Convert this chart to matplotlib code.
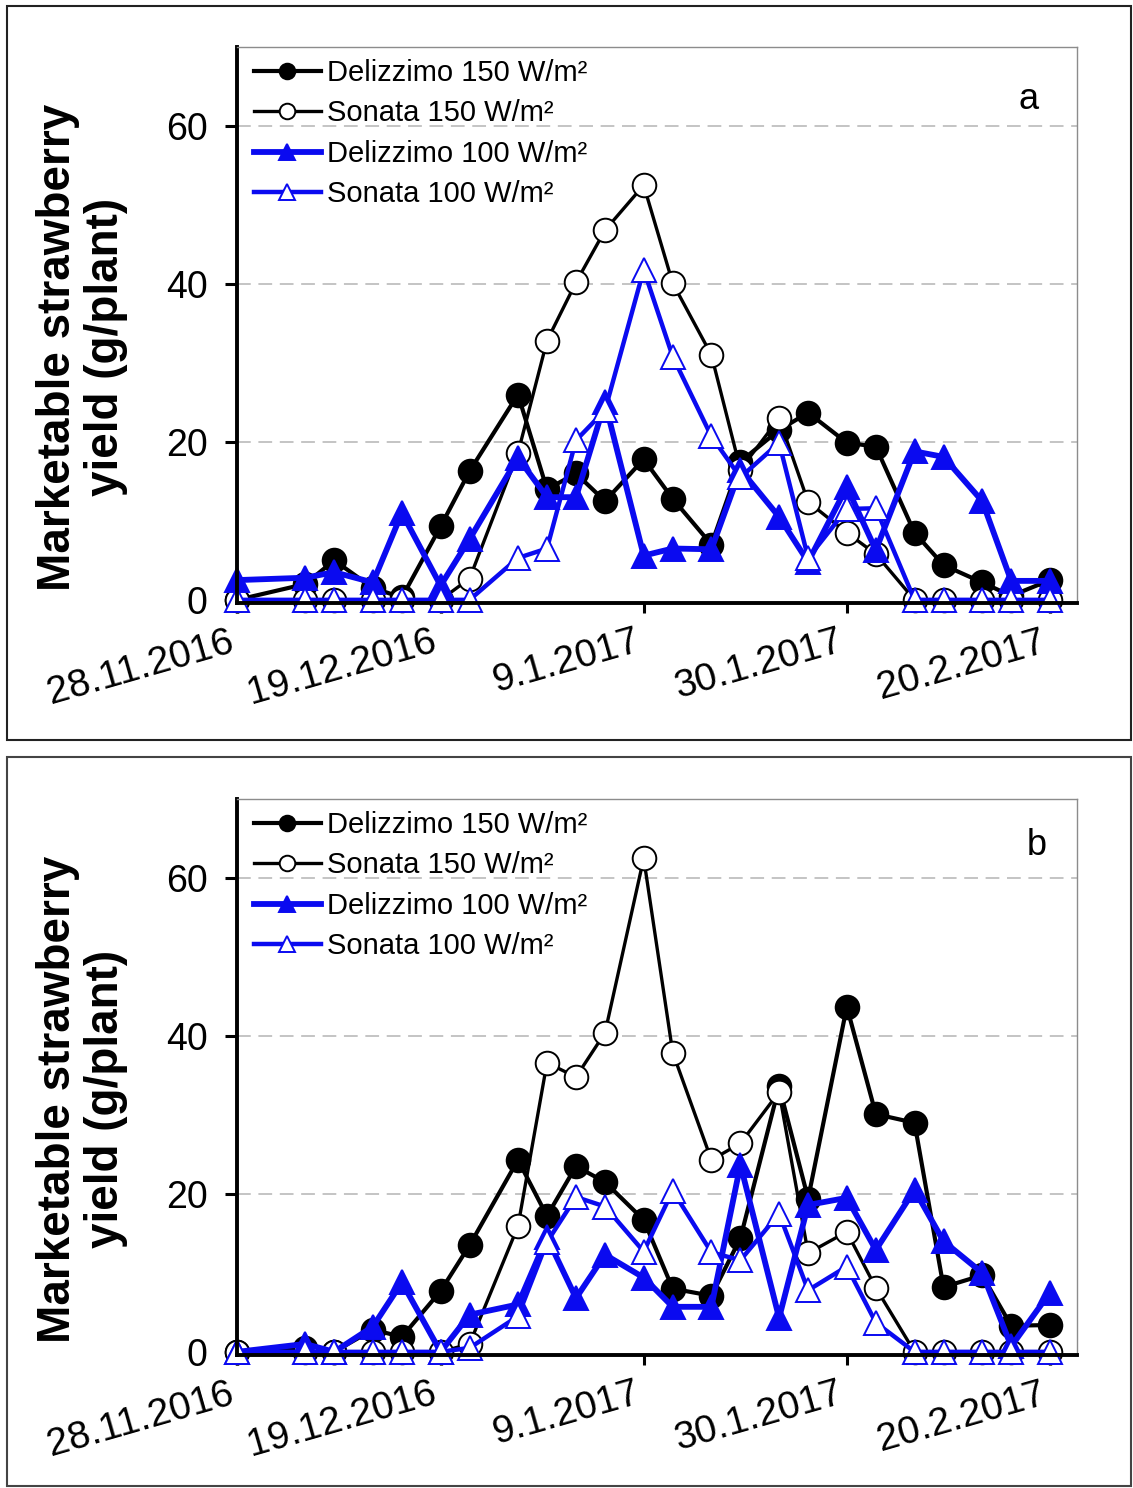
import pandas as pd
import matplotlib
matplotlib.use("Agg")
import matplotlib.pyplot as plt
from matplotlib.patches import Rectangle

plt.rcParams["font.family"] = ["Liberation Sans", "DejaVu Sans"]

# harvest dates (twice weekly)
dates = pd.to_datetime([
    "2016-11-28", "2016-12-05", "2016-12-08", "2016-12-12", "2016-12-15",
    "2016-12-19", "2016-12-22", "2016-12-27", "2016-12-30", "2017-01-02",
    "2017-01-05", "2017-01-09", "2017-01-12", "2017-01-16", "2017-01-19",
    "2017-01-23", "2017-01-26", "2017-01-30", "2017-02-02", "2017-02-06",
    "2017-02-09", "2017-02-13", "2017-02-16", "2017-02-20",
])

tick_dates = pd.to_datetime(["2016-11-28", "2016-12-19", "2017-01-09",
                             "2017-01-30", "2017-02-20"])
tick_labels = ["28.11.2016", "19.12.2016", "9.1.2017", "30.1.2017", "20.2.2017"]

labels = ["Delizzimo 150 W/m²", "Sonata 150 W/m²",
          "Delizzimo 100 W/m²", "Sonata 100 W/m²"]

# panel a
deliz150_a = [0, 2, 5, 1.5, 0.3, 9.3, 16.3, 26, 14, 16, 12.5, 17.8,
              12.8, 7, 17.5, 21.5, 23.7, 19.9, 19.4, 8.5, 4.4, 2.2, 0.5, 2.5]
sonata150_a = [0, 0, 0, 0, 0, 0, 2.7, 18.6, 32.8, 40.2, 46.8, 52.5,
               40.1, 31, 16.5, 23, 12.4, 8.5, 5.8, 0, 0, 0, 0, 0]
deliz100_a = [2.5, 2.8, 3.5, 2.2, 11, 1.8, 7.7, 18, 13, 13, 25, 5.6,
              6.5, 6.4, 16.5, 10.5, 4.8, 14.3, 6.3, 18.8, 18.1, 12.5, 2.4, 2.4]
sonata100_a = [0, 0, 0, 0, 0, 0, 0, 5.3, 6.5, 20.2, 24, 41.8,
               30.8, 20.7, 15.5, 19.9, 5.3, 11.5, 11.6, 0, 0, 0, 0, 0]

# panel b
deliz150_b = [0, 0.5, 0, 2.8, 1.9, 7.7, 13.5, 24.3, 17.2, 23.5, 21.5, 16.7,
              8, 7.1, 14.4, 33.6, 19.4, 43.7, 30.1, 29, 8.2, 9.7, 3.3, 3.4]
sonata150_b = [0, 0, 0, 0, 0, 0, 1, 15.9, 36.6, 34.8, 40.4, 62.5,
               37.9, 24.3, 26.4, 32.9, 12.5, 15.2, 8.1, 0, 0, 0, 0, 0]
deliz100_b = [0, 1, 0, 3.2, 8.8, 0, 4.7, 6, 14.5, 6.8, 12.3, 9.4,
              5.7, 5.7, 23.7, 4.3, 18.6, 19.5, 12.9, 20.5, 14, 10, 0.7, 7.5]
sonata100_b = [0, 0, 0, 0, 0, 0, 0.5, 4.5, 13.9, 19.6, 18.4, 12.7,
               20.4, 12.6, 11.6, 17.5, 7.8, 10.8, 3.7, 0, 0, 0, 0, 0]

BLUE = "#0a0af0"
styles = [
    dict(color="black", lw=3.0, marker="o", mfc="black", mec="black"),
    dict(color="black", lw=2.4, marker="o", mfc="white", mec="black"),
    dict(color=BLUE, lw=4.2, marker="^", mfc=BLUE, mec=BLUE),
    dict(color=BLUE, lw=3.2, marker="^", mfc="white", mec=BLUE),
]

W, H = 1133, 1488
fig = plt.figure(figsize=(W / 100, H / 100), dpi=100)


def fx(px):
    return px / W


def fy(py):
    return 1 - py / H


# outer frames around panels
fig.patches.append(Rectangle((fx(7), fy(740)), fx(1124), 734 / H,
                             transform=fig.transFigure, fill=False,
                             edgecolor="#222222", lw=1.5))
fig.patches.append(Rectangle((fx(7), fy(1486)), fx(1124), 729 / H,
                             transform=fig.transFigure, fill=False,
                             edgecolor="#444444", lw=1.5))


def draw_panel(ax, series, letter, letter_xy):
    for vals, lab, st in zip(series, labels, styles):
        ax.plot(dates, vals, label=lab, ms=17, mew=1.4, clip_on=False,
                **st)

    ax.set_ylim(-0.4, 70)
    ax.set_xlim(dates[0] - pd.Timedelta(days=0.05),
                dates[0] + pd.Timedelta(days=86.8))
    ax.set_yticks([0, 20, 40, 60])
    for yv in [20, 40, 60]:
        ax.axhline(yv, color="#b4b4b4", lw=1.1, ls=(0, (9, 5)), zorder=0)

    ax.set_xticks(tick_dates)
    ax.set_xticklabels(tick_labels, rotation=16, ha="right")
    ax.tick_params(axis="both", labelsize=27, direction="out")
    ax.tick_params(axis="x", labelsize=28)
    ax.tick_params(axis="y", length=9, width=2.2, pad=12)
    ax.tick_params(axis="x", length=7, width=2.2, pad=8)

    for s in ["left", "bottom"]:
        ax.spines[s].set_linewidth(2.8)
        ax.spines[s].set_color("black")
    for s in ["top", "right"]:
        ax.spines[s].set_linewidth(1.0)
        ax.spines[s].set_color("#8c8c8c")

    ax.set_ylabel("Marketable strawberry\nyield (g/plant)", fontsize=33,
                  fontweight="bold", linespacing=1.12)
    ax.yaxis.set_label_coords(-0.13, 0.46)

    ax.legend(loc="upper left", bbox_to_anchor=(0.02, 0.978), frameon=False,
              fontsize=21, handlelength=2.3, handletextpad=0.2,
              labelspacing=0.42, borderpad=0, borderaxespad=0,
              markerscale=0.66)
    ax.text(letter_xy[0], letter_xy[1], letter, transform=ax.transAxes,
            fontsize=26, ha="center", va="center")


ax_a = fig.add_axes([fx(237), fy(603), fx(840), 556 / H])
draw_panel(ax_a, [deliz150_a, sonata150_a, deliz100_a, sonata100_a],
           "a", (0.942, 0.905))

ax_b = fig.add_axes([fx(237), fy(1355), fx(840), 556 / H])
draw_panel(ax_b, [deliz150_b, sonata150_b, deliz100_b, sonata100_b],
           "b", (0.952, 0.917))

fig.savefig("out.png", dpi=100)
